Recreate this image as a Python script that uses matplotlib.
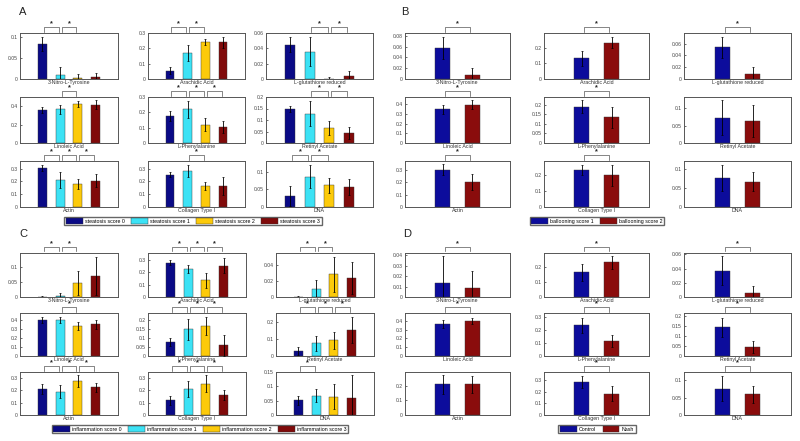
import numpy as np
import matplotlib
matplotlib.use("Agg")
import matplotlib.pyplot as plt
from matplotlib.patches import Patch
from matplotlib.ticker import FuncFormatter
import matplotlib.transforms as mtransforms

plt.rcParams['font.family'] = ['Liberation Sans', 'DejaVu Sans']

# metabolite names, laid out 3x3 in every panel
names = ["3-Nitro-L-Tyrosine", "Arachidic Acid", "L-glutathione reduced",
         "Linoleic Acid", "L-Phenylalanine", "Retinyl Acetate",
         "Actin", "Collagen Type I", "DNA"]

# ---- panel A: steatosis score 0..3
A_labels = ["steatosis score 0", "steatosis score 1", "steatosis score 2", "steatosis score 3"]
A_means = [[0.084, 0.009, 0.002, 0.005], [0.054, 0.170, 0.241, 0.239], [0.0448, 0.0357, 0.0005, 0.004],
           [0.360, 0.367, 0.425, 0.418], [0.178, 0.220, 0.120, 0.102], [0.148, 0.128, 0.064, 0.0435],
           [0.305, 0.212, 0.178, 0.204], [0.253, 0.283, 0.163, 0.163], [0.032, 0.086, 0.061, 0.056]]
A_errs = [[0.016, 0.019, 0.010, 0.010], [0.024, 0.050, 0.018, 0.035], [0.010, 0.019, 0.002, 0.007],
          [0.033, 0.048, 0.030, 0.044], [0.033, 0.056, 0.043, 0.039], [0.014, 0.056, 0.030, 0.027],
          [0.024, 0.061, 0.039, 0.051], [0.019, 0.047, 0.032, 0.069], [0.028, 0.033, 0.021, 0.022]]
A_sig = [[(1, 2), (2, 3)], [(1, 2), (2, 3)], [(2, 3), (3, 4)],
         [(2, 3)], [(1, 2), (2, 3), (3, 4)], [(2, 3), (3, 4)],
         [(1, 2), (2, 3), (3, 4)], [(2, 3)], [(1, 2), (2, 3)]]
A_ymax = [0.11, 0.3, 0.06, 0.5, 0.3, 0.2, 0.36, 0.36, 0.13]
A_ystep = [0.05, 0.1, 0.02, 0.2, 0.1, 0.05, 0.1, 0.1, 0.05]

# ---- panel B: ballooning score 1..2
B_labels = ["ballooning score 1", "ballooning score 2"]
B_means = [[0.0576, 0.0067], [0.132, 0.234], [0.0539, 0.0089],
           [0.346, 0.393], [0.188, 0.135], [0.0726, 0.063],
           [0.303, 0.205], [0.235, 0.200], [0.077, 0.0667]]
B_errs = [[0.020, 0.014], [0.049, 0.038], [0.018, 0.012],
          [0.051, 0.047], [0.034, 0.055], [0.050, 0.045],
          [0.046, 0.065], [0.032, 0.067], [0.035, 0.025]]
B_sig = [[(1, 2)], [(1, 2)], [(1, 2)],
         [(1, 2)], [(1, 2)], [],
         [(1, 2)], [(1, 2)], []]
B_ymax = [0.085, 0.295, 0.078, 0.475, 0.24, 0.132, 0.375, 0.29, 0.122]
B_ystep = [0.02, 0.1, 0.02, 0.1, 0.05, 0.05, 0.1, 0.1, 0.05]

# ---- panel C: inflammation score 0..3
C_labels = ["inflammation score 0", "inflammation score 1", "inflammation score 2", "inflammation score 3"]
C_means = [[0.0005, 0.003, 0.0466, 0.070], [0.278, 0.227, 0.135, 0.254], [0.0003, 0.0094, 0.0283, 0.024],
           [0.400, 0.400, 0.333, 0.352], [0.078, 0.148, 0.170, 0.059], [0.027, 0.0745, 0.092, 0.155],
           [0.208, 0.189, 0.274, 0.225], [0.118, 0.211, 0.252, 0.164], [0.051, 0.068, 0.064, 0.058]]
C_errs = [[0.004, 0.0106, 0.041, 0.063], [0.019, 0.035, 0.060, 0.062], [0.0014, 0.012, 0.022, 0.020],
          [0.037, 0.037, 0.041, 0.048], [0.020, 0.056, 0.050, 0.059], [0.024, 0.046, 0.053, 0.078],
          [0.039, 0.052, 0.046, 0.038], [0.035, 0.063, 0.068, 0.041], [0.017, 0.024, 0.043, 0.082]]
C_sig = [[(1, 2), (2, 3)], [(1, 2), (2, 3), (3, 4)], [(1, 2), (2, 3)],
         [(2, 3)], [(1, 2), (2, 3), (3, 4)], [(1, 2), (2, 3), (3, 4)],
         [(1, 2), (2, 3), (3, 4)], [(1, 2), (2, 3), (3, 4)], [(1, 2)]]
C_ymax = [0.147, 0.357, 0.055, 0.48, 0.24, 0.255, 0.348, 0.348, 0.15]
C_ystep = [0.05, 0.1, 0.02, 0.1, 0.05, 0.1, 0.1, 0.1, 0.05]

# ---- panel D: Control vs Nash
D_labels = ["Control", "Nash"]
D_means = [[0.0132, 0.0084], [0.166, 0.232], [0.0371, 0.0052],
           [0.367, 0.400], [0.235, 0.1175], [0.144, 0.046],
           [0.210, 0.210], [0.282, 0.183], [0.0755, 0.0594]]
D_errs = [[0.0255, 0.0166], [0.056, 0.041], [0.020, 0.010],
          [0.048, 0.037], [0.060, 0.045], [0.049, 0.029],
          [0.064, 0.057], [0.050, 0.065], [0.0355, 0.024]]
D_sig = [[(1, 2)], [(1, 2)], [(1, 2)],
         [(1, 2)], [(1, 2)], [(1, 2)],
         [], [(1, 2)], [(1, 2)]]
D_ymax = [0.042, 0.295, 0.062, 0.49, 0.33, 0.216, 0.295, 0.366, 0.123]
D_ystep = [0.01, 0.1, 0.02, 0.1, 0.1, 0.05, 0.1, 0.1, 0.05]

col4 = ['#0a0a86', '#3ce2f5', '#fcca0a', '#800a0a']
col2 = ['#0c0c9c', '#8a0c0c']

W, H = 800, 441
fig = plt.figure(figsize=(8, 4.41), dpi=100)
fmt = FuncFormatter(lambda v, p: '%g' % round(v, 4))


def draw_panel(means, errs, sigs, ymax, ystep, colors, cols_px, rows_px):
    n = len(means[0])
    x = np.arange(1, n + 1)
    for k in range(9):
        r, c = divmod(k, 3)
        x0, x1 = cols_px[c]
        y0, y1 = rows_px[r]
        ax = fig.add_axes([x0 / W, 1 - y1 / H, (x1 - x0) / W, (y1 - y0) / H])
        ax.bar(x, means[k], width=0.5, color=colors, edgecolor='#333333', linewidth=0.3, zorder=2)
        ax.errorbar(x, means[k], yerr=errs[k], fmt='none', ecolor='black',
                    elinewidth=0.6, capsize=1.0, capthick=0.5, zorder=3)
        ax.set_xlim(-0.25, n + 1.25)
        ax.set_ylim(0, ymax[k])
        ax.set_yticks(np.arange(0, ymax[k] + 1e-9, ystep[k]))
        ax.yaxis.set_major_formatter(fmt)
        ax.set_xticks([])
        ax.tick_params(axis='y', direction='in', length=1.5, width=0.4,
                       labelsize=3.6, labelcolor='#444444', pad=1.5)
        for s in ax.spines.values():
            s.set_color('#555555')
            s.set_linewidth(0.7)
        ax.set_xlabel(names[k], fontsize=3.8, color='#333333', labelpad=0.5)
        # significance brackets
        hpx = y1 - y0
        tr = mtransforms.blended_transform_factory(ax.transData, ax.transAxes)
        ytop = 1 + 6.0 / hpx
        yend = 1 + 1.5 / hpx
        for i, j in sigs[k]:
            xa, xb = i + 0.08, j - 0.08
            ax.plot([xa, xa, xb, xb], [yend, ytop, ytop, yend], color='#555555',
                    lw=0.5, transform=tr, clip_on=False)
            ax.text((i + j) / 2, 1 + 9.5 / hpx, '*', transform=tr, ha='center', va='center',
                    fontsize=5.2, fontweight='bold', color='#222222')


def legend(labels, colors, cx, cy):
    handles = [Patch(facecolor=c, edgecolor='#333333', linewidth=0.3) for c in colors]
    fig.legend(handles, labels, loc='center', bbox_to_anchor=(cx / W, 1 - cy / H),
               ncol=len(labels), fontsize=3.8, frameon=True, fancybox=False,
               edgecolor='#666666', handlelength=3.2, handleheight=1.2,
               columnspacing=1.2, handletextpad=0.4, borderpad=0.3, framealpha=1)


rows_top = [(33, 79), (97, 143), (161, 207)]
rows_bot = [(253, 297), (313, 356), (372, 415)]
cols_A = [(20, 118), (148, 245), (266, 373)]
cols_C = [(20, 118), (148, 246), (276, 374)]
cols_B = [(405, 510), (544, 649), (684, 791)]

draw_panel(A_means, A_errs, A_sig, A_ymax, A_ystep, col4, cols_A, rows_top)
draw_panel(B_means, B_errs, B_sig, B_ymax, B_ystep, col2, cols_B, rows_top)
draw_panel(C_means, C_errs, C_sig, C_ymax, C_ystep, col4, cols_C, rows_bot)
draw_panel(D_means, D_errs, D_sig, D_ymax, D_ystep, col2, cols_B, rows_bot)

legend(A_labels, col4, 193, 221)
legend(B_labels, col2, 597, 221)
legend(C_labels, col4, 200, 429)
legend(D_labels, col2, 597, 429)

for lab, px, py in [("A", 23, 12), ("B", 405, 12), ("C", 23, 234), ("D", 407, 234)]:
    fig.text(px / W, 1 - py / H, lab, fontsize=8, ha='center', va='center', color='#222222')

fig.savefig("out.png", dpi=100, facecolor='white')
